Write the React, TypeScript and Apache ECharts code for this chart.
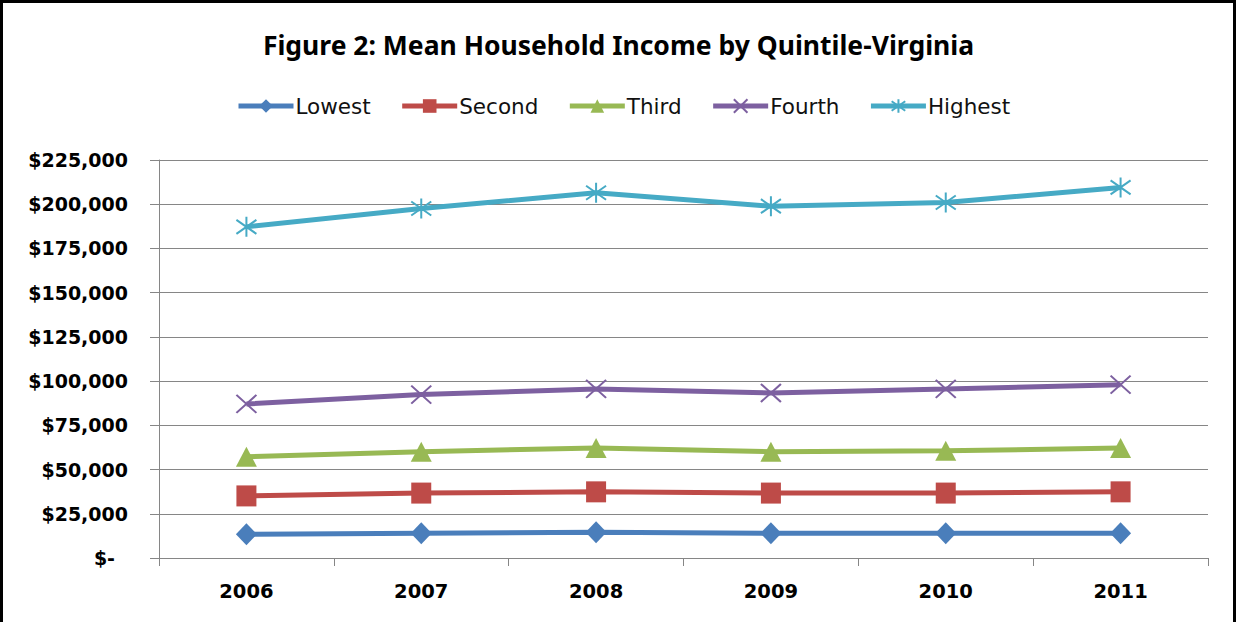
import React, { useEffect, useRef } from "react";
import * as echarts from "echarts";

const years = ["2006", "2007", "2008", "2009", "2010", "2011"];
const lowest = [13400, 14000, 14600, 14000, 14000, 14000];
const second = [35100, 36700, 37400, 36700, 36700, 37400];
const third = [57200, 60100, 62200, 60100, 60600, 62200];
const fourth = [87100, 92400, 95600, 93300, 95600, 98000];
const highest = [187200, 197600, 206500, 198900, 201000, 209500];

const seriesNames = ["Lowest", "Second", "Third", "Fourth", "Highest"];
const colors = ["#4A7EBB", "#BE4B48", "#98B954", "#7D60A0", "#46AAC5"];

const xPath = "path://M0,0L20,20M20,0L0,20";
const starPath = "path://M10,0L10,20M0,3L20,17M20,3L0,17";

export default function App() {
  const ref = useRef<HTMLDivElement>(null);
  useEffect(() => {
    if (!ref.current) return;
    const chart = echarts.init(ref.current, undefined, { renderer: "svg" });
    const data = [lowest, second, third, fourth, highest];
    const symbols = ["diamond", "rect", "triangle", xPath, starPath];
    const sizes: any[] = [[21, 22], [20, 21], [21, 20], [20, 18], [20, 20]];
    chart.setOption({
      animation: false,
      backgroundColor: "#ffffff",
      title: {
        text: "Figure 2: Mean Household Income by Quintile-Virginia",
        left: "center",
        top: 26,
        textStyle: {
          fontFamily: "Noto Sans",
          fontWeight: "bold",
          fontSize: 26.5,
          color: "#000",
        },
      },
      legend: {
        top: 90,
        left: 231,
        itemWidth: 55,
        itemHeight: 17,
        itemGap: 29,
        lineStyle: { width: 5 },
        textStyle: {
          fontFamily: "DejaVu Sans",
          fontSize: 21.5,
          color: "#111",
          padding: [0, 0, 0, -3],
        },
        data: seriesNames,
      },
      grid: { left: 159, right: 29, top: 160, bottom: 64, containLabel: false },
      xAxis: {
        type: "category",
        data: years,
        boundaryGap: true,
        axisLine: { lineStyle: { color: "#868686", width: 1 } },
        axisTick: { show: true, length: 8, alignWithLabel: false, lineStyle: { color: "#868686" } },
        axisLabel: {
          margin: 23,
          fontFamily: "DejaVu Sans",
          fontWeight: "bold",
          fontSize: 19.5,
          color: "#000",
        },
      },
      yAxis: {
        type: "value",
        min: 0,
        max: 225000,
        interval: 25000,
        axisLine: { show: true, lineStyle: { color: "#868686", width: 1 } },
        axisTick: { show: true, length: 9, lineStyle: { color: "#868686" } },
        splitLine: { show: true, lineStyle: { color: "#868686", width: 1 } },
        axisLabel: {
          margin: 31,
          fontFamily: "DejaVu Sans",
          fontWeight: "bold",
          fontSize: 19,
          color: "#000",
          formatter: (v: number) =>
            v === 0 ? "{z|$-}" : "$" + v.toLocaleString("en-US"),
          rich: {
            z: {
              fontFamily: "DejaVu Sans",
              fontWeight: "bold",
              fontSize: 19,
              color: "#000",
              padding: [0, 13, 0, 0],
            },
          },
        },
      },
      graphic: [
        {
          type: "rect",
          shape: { x: 1.5, y: 1.5, width: 1233, height: 700 },
          style: { fill: "none", stroke: "#000", lineWidth: 3 },
          silent: true,
          z: 100,
        },
      ],
      series: seriesNames.map((name, i) => ({
        name,
        type: "line",
        data: data[i],
        symbol: symbols[i],
        symbolSize: sizes[i],
        showAllSymbol: true,
        lineStyle: { color: colors[i], width: 5 },
        itemStyle: {
          color: colors[i],
          borderColor: colors[i],
          borderWidth: i >= 3 ? 2 : 0,
        },
        emphasis: { disabled: true },
        z: 2 + i,
      })),
    });
    return () => chart.dispose();
  }, []);
  return (
    <div
      ref={ref}
      style={{ position: "fixed", left: 0, top: 0, width: 1237, height: 622 }}
    />
  );
}
